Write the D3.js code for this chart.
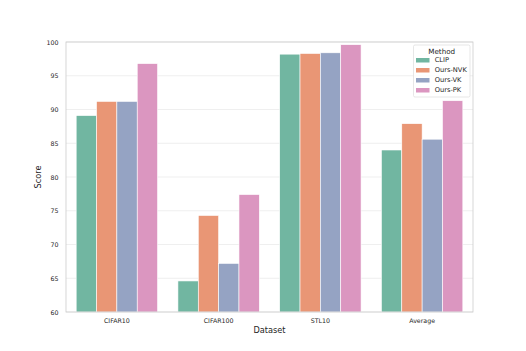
<!DOCTYPE html>
<html><head><meta charset="utf-8">
<script src="https://cdn.jsdelivr.net/npm/d3@7"></script>
<style>body{margin:0;background:#fff}svg{display:block}text{font-family:"DejaVu Sans",sans-serif;fill:#262626}</style>
</head><body>
<script>
const categories = ["CIFAR10","CIFAR100","STL10","Average"];
const methods = ["CLIP","Ours-NVK","Ours-VK","Ours-PK"];
const clip   = [89.1, 64.6, 98.2, 84.0];
const oursNVK= [91.2, 74.3, 98.3, 87.9];
const oursVK = [91.2, 67.2, 98.4, 85.6];
const oursPK = [96.8, 77.4, 99.6, 91.3];
const yTicks = [60,65,70,75,80,85,90,95,100];
const colors = ["#71b6a1","#e99675","#95a3c3","#db96c0"];
const series = [clip, oursNVK, oursVK, oursPK];

const W=526,H=351, m={l:66,r:53,t:42,b:39};
const svg=d3.select("body").append("svg").attr("width",W).attr("height",H);
const x=d3.scaleBand().domain(categories).range([m.l,W-m.r]).paddingInner(0.2).paddingOuter(0.1);
const xi=d3.scaleBand().domain(methods).range([0,x.bandwidth()]);
const y=d3.scaleLinear().domain([60,100]).range([H-m.b,m.t]);

// grid
svg.append("g").selectAll("line").data(yTicks).join("line")
 .attr("x1",m.l).attr("x2",W-m.r).attr("y1",d=>y(d)).attr("y2",d=>y(d))
 .attr("stroke","#ebebeb").attr("stroke-width",0.8);

// bars
categories.forEach((c,ci)=>{
  methods.forEach((mm,mi)=>{
    svg.append("rect").attr("x",x(c)+xi(mm)).attr("width",xi.bandwidth())
      .attr("y",y(series[mi][ci])).attr("height",y(60)-y(series[mi][ci]))
      .attr("fill",colors[mi]).attr("stroke","#fff").attr("stroke-width",0.6);
  });
});

// frame
svg.append("rect").attr("x",m.l).attr("y",m.t).attr("width",W-m.r-m.l).attr("height",H-m.b-m.t)
 .attr("fill","none").attr("stroke","#cccccc").attr("stroke-width",0.8);

// axes
const ya=svg.append("g").attr("transform",`translate(${m.l},0)`).style("color","#262626")
  .call(d3.axisLeft(y).tickValues(yTicks).tickSize(0).tickPadding(7.5));
ya.select(".domain").remove();
ya.selectAll("text").attr("font-size",6.3).style("font-family","DejaVu Sans").style("fill","#262626");
const xa=svg.append("g").attr("transform",`translate(0,${H-m.b})`).style("color","#262626")
  .call(d3.axisBottom(x).tickSize(0).tickPadding(6.5));
xa.select(".domain").remove();
xa.selectAll("text").attr("font-size",6.3).style("font-family","DejaVu Sans").style("fill","#262626");

svg.append("text").attr("x",(m.l+W-m.r)/2).attr("y",333).attr("text-anchor","middle").attr("font-size",8.2).text("Dataset");
svg.append("text").attr("transform",`translate(41,${(m.t+H-m.b)/2}) rotate(-90)`).attr("text-anchor","middle").attr("font-size",8.2).text("Score");

// legend
const lg=svg.append("g");
lg.append("rect").attr("x",413.5).attr("y",45).attr("width",56.5).attr("height",52).attr("rx",1.5)
 .attr("fill","#fff").attr("fill-opacity",0.8).attr("stroke","#dddddd").attr("stroke-width",0.7);
lg.append("text").attr("x",441.7).attr("y",53.5).attr("text-anchor","middle").attr("font-size",7.2).text("Method");
methods.forEach((mm,i)=>{
  const yy=60+i*10;
  lg.append("rect").attr("x",416).attr("y",yy-2).attr("width",13.5).attr("height",4.5).attr("fill",colors[i]);
  lg.append("text").attr("x",434.7).attr("y",yy+2.4).attr("font-size",6.7).text(mm);
});
</script>
</body></html>
